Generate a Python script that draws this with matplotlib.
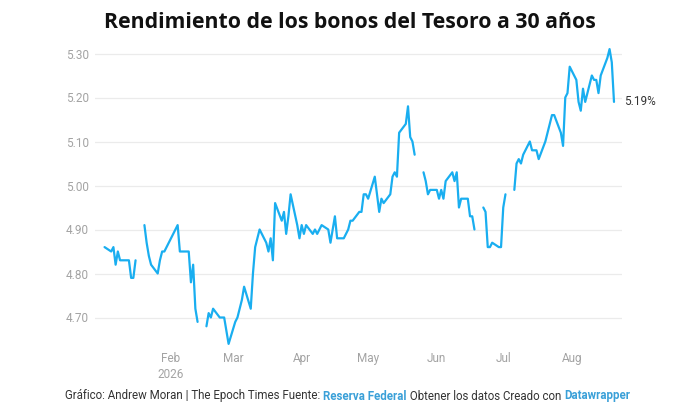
import matplotlib
matplotlib.use("Agg")
import matplotlib.pyplot as plt
import matplotlib.dates as mdates
import numpy as np
import pandas as pd

nan = np.nan

# ---- data (30-year Treasury yield, %, trading days; NaN = market holiday) ----
start_date = "2026-01-02"
end_date = "2026-08-20"
jan = [4.86, 4.85, 4.86, 4.82, 4.85, 4.83, 4.83, 4.83, 4.79, 4.79, 4.83,
       nan, 4.91, 4.87, 4.84, 4.82, 4.80, 4.83, 4.85, 4.85, 4.86]
feb = [4.89, 4.90, 4.91, 4.85, 4.85, 4.85, 4.78, 4.82, 4.72, 4.69,
       nan, 4.68, 4.71, 4.70, 4.72, 4.70, 4.70, 4.70, 4.67, 4.64]
mar = [4.69, 4.70, 4.72, 4.74, 4.77, 4.72, 4.80, 4.86, 4.88, 4.90,
       4.87, 4.85, 4.88, 4.83, 4.96, 4.92, 4.94, 4.89, 4.93, 4.98,
       4.91, 4.88]
apr = [4.91, 4.89, 4.91, 4.89, 4.90, 4.89, 4.90, 4.91, 4.90, 4.87,
       4.90, 4.93, 4.88, 4.88, 4.89, 4.90, 4.92, 4.92, 4.94, 4.94,
       4.98, 4.98]
may = [4.97, 5.02, 4.98, 4.94, 4.97, 4.96, 4.98, 5.02, 5.03, 5.02,
       5.12, 5.14, 5.18, 5.11, 5.10, 5.07, nan, 5.03, 5.01, 4.98, 4.99]
jun = [4.99, 4.97, 4.99, 4.97, 5.01, 5.03, 5.01, 5.03, 4.95, 4.97,
       4.97, 4.93, 4.93, 4.90, nan, 4.95, 4.94, 4.86, 4.86, 4.87,
       4.86, 4.86]
jul = [4.95, 4.98, nan, 4.99, 5.05, 5.06, 5.05, 5.07, 5.10, 5.08,
       5.08, 5.08, 5.06, 5.10, 5.12, 5.14, 5.16, 5.16, 5.12, 5.09,
       5.20, 5.21, 5.27]
aug = [5.24, 5.19, 5.17, 5.22, 5.19, 5.25, 5.24, 5.24, 5.21, 5.25,
       5.29, 5.31, 5.28, 5.19]

y_ticks = [4.70, 4.80, 4.90, 5.00, 5.10, 5.20, 5.30]
x_tick_dates = ["2026-02-01", "2026-03-01", "2026-04-01", "2026-05-01",
                "2026-06-01", "2026-07-01", "2026-08-01"]
x_tick_labels = ["Feb\n2026", "Mar", "Apr", "May", "Jun", "Jul", "Aug"]

title = "Rendimiento de los bonos del Tesoro a 30 años"
footer_parts = [
    ("Gráfico: Andrew Moran | The Epoch Times Fuente: ", "#333333", "normal"),
    ("Reserva Federal", "#3aa0d8", "bold"),
    (" Obtener los datos Creado con ", "#333333", "normal"),
    ("Datawrapper", "#3aa0d8", "bold"),
]

dates = pd.bdate_range(start_date, end_date)
values = np.array(jan + feb + mar + apr + may + jun + jul + aug, dtype=float)
assert len(dates) == len(values), (len(dates), len(values))

# ---- figure ----
W, H = 700, 420
fig = plt.figure(figsize=(W / 100, H / 100), dpi=100, facecolor="white")

ylo, yhi = 4.63, 5.32
px_per_unit = 440.0
y530 = 53.5
top_px = y530 - (yhi - 5.30) * px_per_unit
bot_px = y530 + (5.30 - ylo) * px_per_unit
left_px, right_px = 95, 622
ax = fig.add_axes([left_px / W, 1 - bot_px / H,
                   (right_px - left_px) / W, (bot_px - top_px) / H])
ax.set_facecolor("white")

ax.plot(dates, values, color="#19aef0", lw=1.6, solid_joinstyle="round",
        solid_capstyle="round", zorder=3)

feb1 = pd.Timestamp("2026-02-01")
ppd = 2.215
ax.set_xlim(feb1 + pd.Timedelta(days=(left_px - 171) / ppd),
            feb1 + pd.Timedelta(days=(right_px - 171) / ppd))
ax.set_ylim(ylo, yhi)

ax.set_yticks(y_ticks)
ax.set_yticklabels([f"{v:.2f}" for v in y_ticks])
ax.set_xticks(pd.to_datetime(x_tick_dates))
ax.set_xticklabels(x_tick_labels)
ax.tick_params(axis="y", length=0, pad=4.5, labelsize=8.5, labelcolor="#a3a3a3")
ax.tick_params(axis="x", length=0, pad=2.5, labelsize=8.5, labelcolor="#a3a3a3")
for lab in ax.get_xticklabels():
    lab.set_linespacing(1.35)
for lab in ax.get_yticklabels() + ax.get_xticklabels():
    lab.set_family("Roboto")

ax.grid(axis="y", color="#ebebeb", lw=0.9, zorder=0)
ax.grid(axis="x", visible=False)
for s in ax.spines.values():
    s.set_visible(False)

# end label
last_idx = np.where(~np.isnan(values))[0][-1]
ax.annotate(f"{values[last_idx]:.2f}%", xy=(dates[last_idx], values[last_idx]),
            xytext=(7, 0), textcoords="offset points", va="center", ha="left",
            fontsize=8.5, color="#333333", family="Roboto")

# title
fig.text(0.5, 1 - 22 / H, title, ha="center", va="center", fontsize=15.3,
         fontweight="bold", family="Open Sans", color="#111111")

# footer (multi-colour, centred)
renderer = fig.canvas.get_renderer()
fy = 1 - 396 / H
texts = []
for txt, col, wt in footer_parts:
    t = fig.text(0, fy, txt, ha="left", va="center", fontsize=8.3,
                 color=col, fontweight=wt, family="Roboto")
    texts.append(t)
widths = [t.get_window_extent(renderer).width for t in texts]
total = sum(widths)
x0 = 347.5 - total / 2
for t, w in zip(texts, widths):
    t.set_x(x0 / W)
    x0 += w

fig.savefig("out.png", dpi=100, facecolor="white")
